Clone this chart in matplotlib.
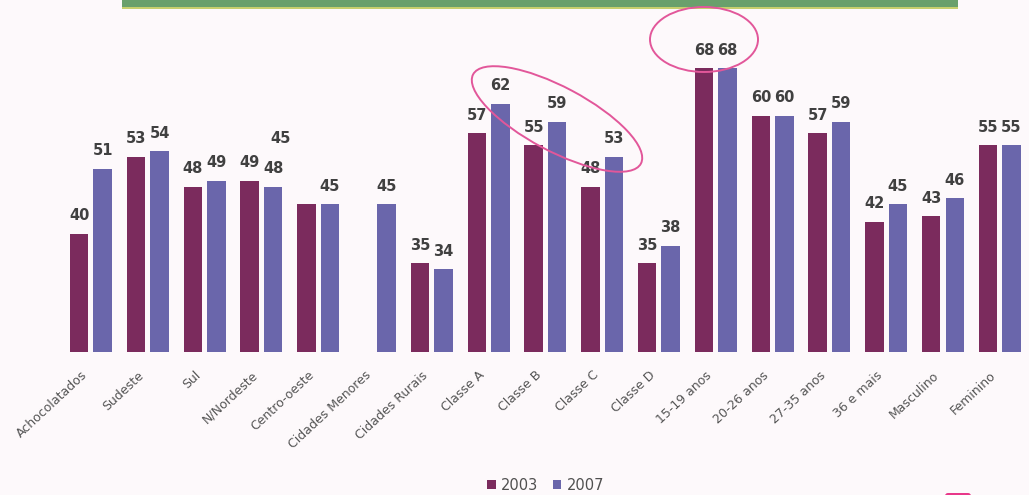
import numpy as np
import matplotlib
matplotlib.use("Agg")
import matplotlib.pyplot as plt
from matplotlib.patches import Ellipse, Rectangle, FancyBboxPatch
import matplotlib.transforms as mtransforms

categorias = ["Achocolatados", "Sudeste", "Sul", "N/Nordeste", "Centro-oeste",
              "Cidades Menores", "Cidades Rurais", "Classe A", "Classe B", "Classe C",
              "Classe D", "15-19 anos", "20-26 anos", "27-35 anos", "36 e mais",
              "Masculino", "Feminino"]
v2003 = [40, 53, 48, 49, 45, np.nan, 35, 57, 55, 48, 35, 68, 60, 57, 42, 43, 55]
v2007 = [51, 54, 49, 48, 45, 45, 34, 62, 59, 53, 38, 68, 60, 59, 45, 46, 55]
anos = ["2003", "2007"]

cor2003 = "#7b2b5d"
cor2007 = "#6a66ab"
fundo = "#fdf9fb"
rosa = "#e2579a"

plt.rcParams['font.family'] = ['DejaVu Sans']

fig = plt.figure(figsize=(10.29, 4.95), dpi=100, facecolor=fundo)
ax = fig.add_axes([0.0608, 0.2889, 0.9384, 0.6566])
ax.set_facecolor(fundo)

x = np.arange(len(categorias))
larg = 0.325
desl = 0.207
b1 = ax.bar(x - desl, v2003, larg, color=cor2003, label=anos[0])
b2 = ax.bar(x + desl, v2007, larg, color=cor2007, label=anos[1])

ax.set_xlim(-0.5, len(categorias) - 0.5)
ax.set_ylim(20, 75)

# rotulos de valor acima das barras
for xs, vals in ((x - desl, v2003), (x + desl, v2007)):
    for xi, v in zip(xs, vals):
        if np.isnan(v):
            continue
        if xi == 4 - desl:
            # rotulo do Centro-oeste 2003 ficou deslocado no original
            ax.text(3.33, 56.2, "%d" % v, ha='center', va='center',
                    fontsize=10.5, fontweight='bold', color='#404040')
            continue
        ax.annotate("%d" % v, (xi, v), xytext=(0, 13), textcoords='offset points',
                    ha='center', va='center', fontsize=10.5, fontweight='bold',
                    color='#404040')

ax.set_xticks(x)
ax.set_xticklabels(categorias, rotation=43, ha='right', rotation_mode='anchor',
                   fontsize=9, color='#555555')
ax.tick_params(axis='x', length=0, pad=12)
ax.set_yticks([])
for s in ax.spines.values():
    s.set_visible(False)
shift = mtransforms.ScaledTranslation(-10 / 100, 0, fig.dpi_scale_trans)
for lbl in ax.get_xticklabels():
    lbl.set_transform(lbl.get_transform() + shift)

fig.legend(handles=[b1, b2], labels=anos, loc='center', bbox_to_anchor=(0.53, 0.02),
           ncol=2, frameon=False, fontsize=10.5, handlelength=0.6, handleheight=0.6,
           handletextpad=0.35, columnspacing=1.0, labelcolor='#505050')

# faixa verde do titulo
fig.add_artist(Rectangle((0.1186, 0.982), 0.8124, 0.02, transform=fig.transFigure,
                         facecolor='#c7cf6e', edgecolor='none'))
fig.add_artist(Rectangle((0.1186, 0.986), 0.8124, 0.02, transform=fig.transFigure,
                         facecolor='#69a06c', edgecolor='none'))

# destaques
fig.add_artist(Ellipse((7.04, 4.555), 1.08, 0.65, transform=fig.dpi_scale_trans,
                       fill=False, edgecolor=rosa, linewidth=1.4))
fig.add_artist(Ellipse((5.57, 3.76), 1.90, 0.64, angle=-28, transform=fig.dpi_scale_trans,
                       fill=False, edgecolor=rosa, linewidth=1.4))
fig.add_artist(FancyBboxPatch((9.45, -0.05), 0.26, 0.07, boxstyle="round,pad=0,rounding_size=0.03",
                              transform=fig.dpi_scale_trans, facecolor='#e8388a',
                              edgecolor='none'))

fig.savefig("out.png", dpi=100, facecolor=fundo)
